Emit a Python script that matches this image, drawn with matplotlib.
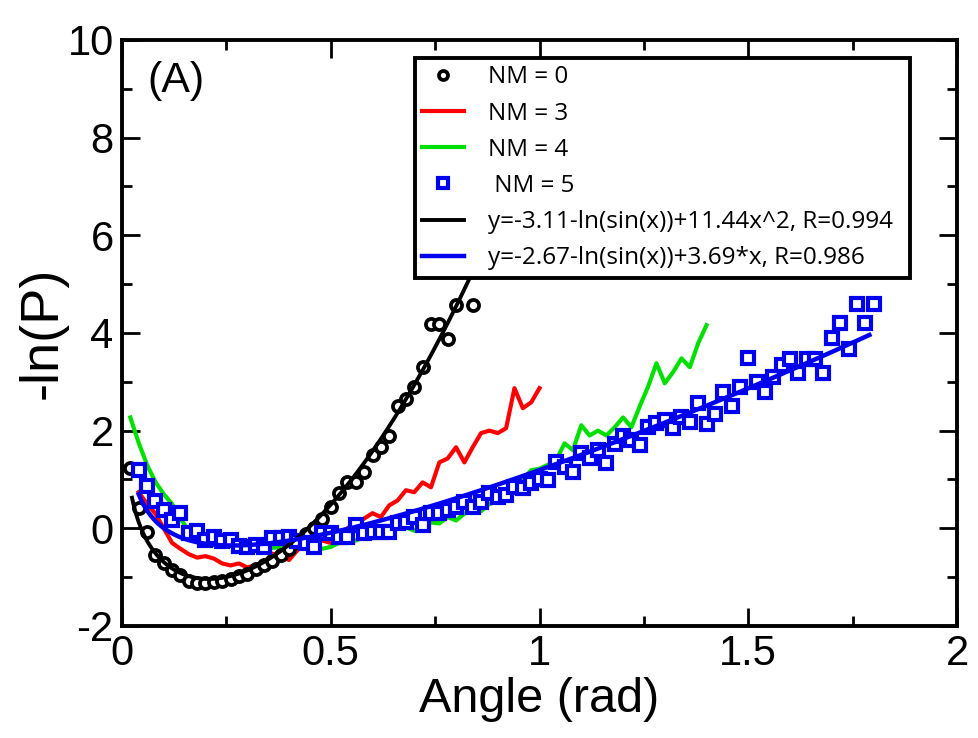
import matplotlib
matplotlib.use("Agg")
import matplotlib.pyplot as plt
import numpy as np
from matplotlib.ticker import MultipleLocator

plt.rcParams["axes.unicode_minus"] = False

# ---- data ----
nm0_x = [0.02, 0.04, 0.06, 0.08, 0.10, 0.12, 0.14, 0.16, 0.18, 0.20, 0.22, 0.24, 0.26, 0.28,
         0.30, 0.32, 0.34, 0.36, 0.38, 0.40, 0.42, 0.44, 0.46, 0.48, 0.50, 0.52, 0.54, 0.56,
         0.58, 0.60, 0.62, 0.64, 0.66, 0.68, 0.70, 0.72, 0.74, 0.76, 0.78, 0.80, 0.84]
nm0_y = [1.23, 0.41, -0.08, -0.55, -0.72, -0.85, -0.95, -1.07, -1.12, -1.12, -1.10, -1.07,
         -1.03, -0.98, -0.93, -0.83, -0.76, -0.66, -0.55, -0.42, -0.28, -0.12, 0.00, 0.20,
         0.43, 0.72, 0.94, 0.95, 1.15, 1.50, 1.66, 1.90, 2.50, 2.65, 2.90, 3.30, 4.18, 4.18,
         3.88, 4.57, 4.57]

nm3_x = [0.04, 0.06, 0.08, 0.10, 0.12, 0.14, 0.16, 0.18, 0.20, 0.22, 0.24, 0.26, 0.28, 0.30,
         0.32, 0.34, 0.36, 0.38, 0.40, 0.42, 0.44, 0.46, 0.48, 0.50, 0.52, 0.54, 0.56, 0.58,
         0.60, 0.62, 0.64, 0.66, 0.68, 0.70, 0.72, 0.74, 0.76, 0.78, 0.80, 0.82, 0.84, 0.86,
         0.88, 0.90, 0.92, 0.94, 0.96, 0.98, 1.00]
nm3_y = [0.74, 0.50, 0.30, 0.00, -0.30, -0.42, -0.53, -0.60, -0.57, -0.62, -0.72, -0.76,
         -0.72, -0.80, -0.76, -0.70, -0.52, -0.55, -0.65, -0.45, -0.33, -0.27, -0.25, -0.30,
         -0.10, 0.00, 0.10, 0.20, 0.31, 0.23, 0.47, 0.57, 0.78, 0.74, 0.94, 0.84, 1.35, 1.43,
         1.66, 1.35, 1.66, 1.95, 2.00, 1.95, 2.05, 2.87, 2.46, 2.58, 2.87]

nm4_x = [0.02, 0.04, 0.06, 0.08, 0.10, 0.12, 0.14, 0.16, 0.18, 0.20, 0.22, 0.24, 0.26, 0.28,
         0.30, 0.32, 0.34, 0.36, 0.38, 0.40, 0.42, 0.44, 0.46, 0.48, 0.50, 0.52, 0.54, 0.56,
         0.58, 0.60, 0.62, 0.64, 0.66, 0.68, 0.70, 0.72, 0.74, 0.76, 0.78, 0.80, 0.82, 0.84,
         0.86, 0.88, 0.90, 0.92, 0.94, 0.96, 0.98, 1.00, 1.02, 1.04, 1.06, 1.08, 1.10, 1.12,
         1.14, 1.16, 1.18, 1.20, 1.22, 1.24, 1.26, 1.28, 1.30, 1.32, 1.34, 1.36, 1.38, 1.40]
nm4_y = [2.27, 1.75, 1.30, 0.95, 0.70, 0.50, 0.20, -0.05, -0.25, -0.30, -0.30, -0.35, -0.35,
         -0.40, -0.42, -0.38, -0.40, -0.40, -0.38, -0.35, -0.30, -0.35, -0.35, -0.42, -0.38,
         -0.30, -0.30, -0.25, -0.18, -0.20, -0.10, -0.10, 0.02, 0.02, -0.05, 0.05, 0.12, 0.10,
         0.23, 0.16, 0.30, 0.37, 0.35, 0.50, 0.55, 0.72, 0.85, 1.00, 1.19, 1.22, 1.30, 1.40,
         1.74, 1.60, 2.11, 1.90, 2.00, 1.90, 2.07, 2.27, 2.07, 2.50, 2.90, 3.38, 2.97, 3.20,
         3.48, 3.30, 3.79, 4.16]

nm5_x = [0.04, 0.06, 0.08, 0.10, 0.12, 0.14, 0.16, 0.18, 0.20, 0.22, 0.24, 0.26, 0.28, 0.30,
         0.32, 0.34, 0.36, 0.38, 0.40, 0.42, 0.44, 0.46, 0.48, 0.50, 0.52, 0.54, 0.56, 0.58,
         0.60, 0.62, 0.64, 0.66, 0.68, 0.70, 0.72, 0.74, 0.76, 0.78, 0.80, 0.82, 0.84, 0.86,
         0.88, 0.90, 0.92, 0.94, 0.96, 0.98, 1.00, 1.02, 1.04, 1.06, 1.08, 1.10, 1.12, 1.14,
         1.16, 1.18, 1.20, 1.22, 1.24, 1.26, 1.28, 1.30, 1.32, 1.34, 1.36, 1.38, 1.40, 1.42,
         1.44, 1.46, 1.48, 1.50, 1.52, 1.54, 1.56, 1.58, 1.60, 1.62, 1.64, 1.66, 1.68, 1.70,
         1.72, 1.74, 1.76, 1.78, 1.80]
nm5_y = [1.19, 0.87, 0.55, 0.37, 0.16, 0.31, -0.10, -0.06, -0.23, -0.18, -0.25, -0.23, -0.37,
         -0.39, -0.35, -0.39, -0.20, -0.20, -0.18, -0.25, -0.31, -0.39, -0.10, -0.10, -0.18,
         -0.18, 0.06, -0.10, -0.08, -0.08, -0.08, 0.10, 0.12, 0.23, 0.06, 0.31, 0.31, 0.37,
         0.43, 0.53, 0.43, 0.53, 0.72, 0.64, 0.68, 0.84, 0.82, 0.92, 1.02, 0.98, 1.35, 1.25,
         1.15, 1.54, 1.45, 1.60, 1.33, 1.72, 1.89, 1.80, 1.70, 2.07, 2.15, 2.21, 2.05, 2.27,
         2.17, 2.56, 2.13, 2.34, 2.79, 2.50, 2.89, 3.48, 2.99, 2.79, 3.09, 3.34, 3.46, 3.18,
         3.46, 3.46, 3.18, 3.89, 4.20, 3.67, 4.59, 4.20, 4.59]

# fit parameters (from the legend)
fit0_a, fit0_b, fit0_range = -3.11, 11.44, (0.024, 0.87)
fit5_a, fit5_b, fit5_range = -2.67, 3.69, (0.04, 1.79)

labels = ["NM = 0", "NM = 3", "NM = 4", " NM = 5",
          "y=-3.11-ln(sin(x))+11.44x^2, R=0.994",
          "y=-2.67-ln(sin(x))+3.69*x, R=0.986"]

x_ticks = [0, 0.5, 1, 1.5, 2]
x_ticklabels = ["0", "0.5", "1", "1.5", "2"]

GREEN = "#00e000"
RED = "#ff0000"
BLUE = "#0000ee"

fig = plt.figure(figsize=(9.79, 7.38), dpi=100)
ax = fig.add_axes([0.1246, 0.1518, 0.853, 0.794])

xf0 = np.linspace(*fit0_range, 200)
yf0 = fit0_a - np.log(np.sin(xf0)) + fit0_b * xf0 ** 2
xf5 = np.linspace(*fit5_range, 300)
yf5 = fit5_a - np.log(np.sin(xf5)) + fit5_b * xf5

h3, = ax.plot(nm3_x, nm3_y, color=RED, lw=3.0, zorder=2)
h4, = ax.plot(nm4_x, nm4_y, color=GREEN, lw=3.0, zorder=2)
h0, = ax.plot(nm0_x, nm0_y, ls="none", marker="o", ms=8, mfc="white", mec="black",
              mew=2.7, zorder=3)
h5, = ax.plot(nm5_x, nm5_y, ls="none", marker="s", ms=8.5, mfc="white", mec=BLUE,
              mew=3.0, zorder=3)
hf0, = ax.plot(xf0, yf0, color="black", lw=2.8, zorder=4)
hf5, = ax.plot(xf5, yf5, color=BLUE, lw=3.2, zorder=4)

ax.set_xlim(0, 2)
ax.set_ylim(-2, 10)
ax.xaxis.set_minor_locator(MultipleLocator(0.25))
ax.yaxis.set_major_locator(MultipleLocator(2))
ax.yaxis.set_minor_locator(MultipleLocator(1))
ax.set_xticks(x_ticks)
ax.set_xticklabels(x_ticklabels)
ax.tick_params(which="both", direction="in", top=True, right=True, width=2,
               labelsize=30, pad=6)
ax.tick_params(which="major", length=13)
ax.tick_params(which="minor", length=7)
for sp in ax.spines.values():
    sp.set_linewidth(2.8)
for lab in ax.get_xticklabels() + ax.get_yticklabels():
    lab.set_family("Liberation Sans")

ax.set_xlabel("Angle (rad)", fontsize=35, family="Liberation Sans", labelpad=2)
ax.set_ylabel("-ln(P)", fontsize=39, family="Liberation Sans", labelpad=0)
ax.text(0.03, 0.965, "(A)", transform=ax.transAxes, fontsize=31,
        family="Liberation Sans", va="top", ha="left")

leg = ax.legend([h0, h3, h4, h5, hf0, hf5], labels, loc="upper left",
                bbox_to_anchor=(0.351, 0.969, 0.593, 0.0), mode="expand",
                prop={"family": "Open Sans", "size": 17.5}, frameon=True,
                fancybox=False, edgecolor="black", handlelength=1.7,
                labelspacing=0.5, borderpad=0.3, handletextpad=1.0,
                borderaxespad=0)
leg.get_frame().set_linewidth(2.8)
leg.get_frame().set_alpha(1)
for lh in leg.legend_handles:
    if lh.get_marker() in ("o", "s"):
        lh.set_markersize(6.5)

fig.savefig("out.png", dpi=100)
